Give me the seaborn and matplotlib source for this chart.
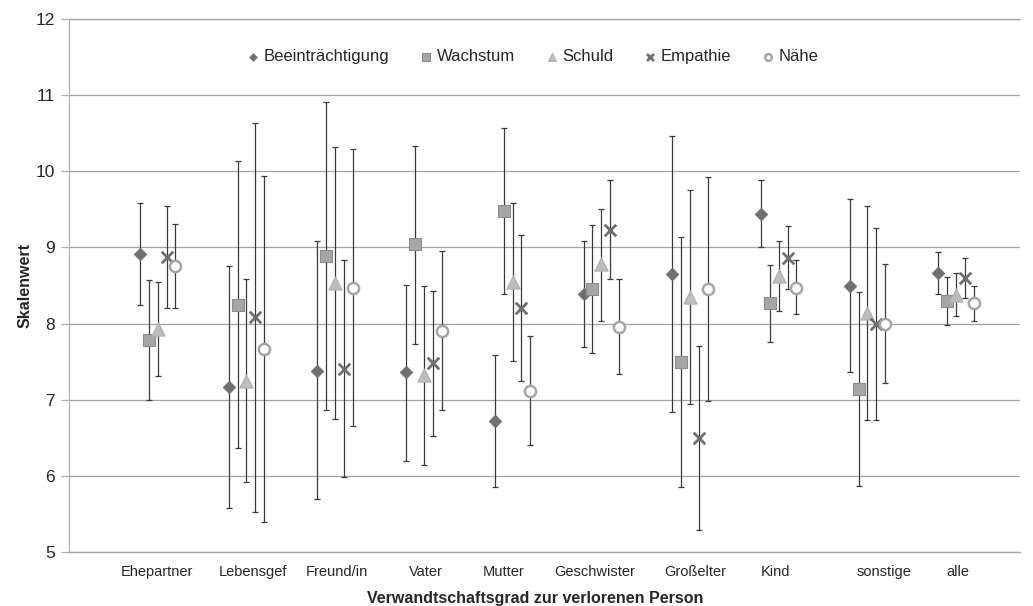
import numpy as np
import pandas as pd
import seaborn as sns
import matplotlib.pyplot as plt

# data
categories = ["Ehepartner", "Lebensgef", "Freund/in", "Vater", "Mutter",
              "Geschwister", "Großelter", "Kind", "sonstige", "alle"]
series = ["Beeinträchtigung", "Wachstum", "Schuld", "Empathie", "Nähe"]

beeintr_mean = [8.92, 7.17, 7.38, 7.36, 6.72, 8.39, 8.65, 9.44, 8.50, 8.67]
beeintr_hi = [9.58, 8.75, 9.08, 8.51, 7.59, 9.08, 10.46, 9.88, 9.64, 8.94]
beeintr_lo = [8.25, 5.58, 5.69, 6.20, 5.86, 7.69, 6.84, 9.01, 7.36, 8.39]

wachstum_mean = [7.79, 8.25, 8.89, 9.04, 9.48, 8.46, 7.50, 8.27, 7.14, 8.30]
wachstum_hi = [8.57, 10.14, 10.91, 10.33, 10.57, 9.29, 9.14, 8.77, 8.42, 8.61]
wachstum_lo = [7.00, 6.37, 6.86, 7.73, 8.39, 7.62, 5.86, 7.76, 5.87, 7.98]

schuld_mean = [7.93, 7.25, 8.53, 7.32, 8.55, 8.78, 8.35, 8.62, 8.14, 8.38]
schuld_hi = [8.55, 8.58, 10.32, 8.50, 9.59, 9.51, 9.76, 9.09, 9.54, 8.66]
schuld_lo = [7.31, 5.92, 6.75, 6.14, 7.51, 8.04, 6.94, 8.16, 6.74, 8.10]

empathie_mean = [8.87, 8.08, 7.41, 7.48, 8.20, 9.23, 6.50, 8.86, 8.00, 8.60]
empathie_hi = [9.54, 10.64, 8.84, 8.43, 9.16, 9.89, 7.71, 9.28, 9.26, 8.86]
empathie_lo = [8.20, 5.52, 5.98, 6.53, 7.24, 8.58, 5.29, 8.46, 6.74, 8.34]

naehe_mean = [8.76, 7.67, 8.47, 7.90, 7.12, 7.96, 8.45, 8.47, 7.99, 8.27]
naehe_hi = [9.31, 9.94, 10.29, 8.95, 7.84, 8.59, 9.92, 8.83, 8.78, 8.50]
naehe_lo = [8.20, 5.39, 6.65, 6.86, 6.41, 7.34, 6.98, 8.12, 7.22, 8.04]

# x-label positions (labels were placed by hand in the original)
label_pos = [0.99, 2.07, 3.02, 4.02, 4.90, 5.93, 7.06, 7.96, 9.19, 10.02]

means = [beeintr_mean, wachstum_mean, schuld_mean, empathie_mean, naehe_mean]
his = [beeintr_hi, wachstum_hi, schuld_hi, empathie_hi, naehe_hi]
los = [beeintr_lo, wachstum_lo, schuld_lo, empathie_lo, naehe_lo]

styles = {
    "Beeinträchtigung": dict(marker="D", s=42, color="#6f6f6f", edgecolor="#6f6f6f", linewidth=0.5),
    "Wachstum": dict(marker="s", s=80, color="#a6a6a6", edgecolor="#8c8c8c", linewidth=0.8),
    "Schuld": dict(marker="^", s=90, color="#bdbdbd", edgecolor="#b0b0b0", linewidth=0.8),
    "Empathie": dict(marker="x", s=70, color="#6f6f6f", linewidth=2.0),
    "Nähe": dict(marker="o", s=65, facecolor="white", edgecolor="#a6a6a6", linewidth=1.8),
}
offsets = [-0.2, -0.1, 0.0, 0.1, 0.2]

sns.set_theme(style="white")
plt.rcParams['font.family'] = ['Liberation Sans', 'DejaVu Sans']

fig = plt.figure(figsize=(10.33, 6.06), dpi=100)
ax = fig.add_axes([0.0668, 0.0891, 0.9206, 0.8795])

pos = np.arange(1, len(categories) + 1)
for k, name in enumerate(series):
    x = pos + offsets[k]
    m = np.array(means[k])
    err = [m - np.array(los[k]), np.array(his[k]) - m]
    ax.errorbar(x, m, yerr=err, fmt="none", ecolor="#3a3a3a", elinewidth=0.9,
                capsize=2.5, capthick=0.9, zorder=2 + k)
    df = pd.DataFrame({"x": x, "y": m})
    sns.scatterplot(data=df, x="x", y="y", ax=ax, label=name, zorder=3 + k,
                    **styles[name])

ax.set_xlim(0, 10.72)
ax.set_ylim(5, 12)
ax.set_yticks(range(5, 13))
ax.yaxis.grid(True, color="#a3a3a3", linewidth=0.9)
for yv in (5, 12):
    ax.axhline(yv, color="#a3a3a3", linewidth=1.0, clip_on=False, zorder=1)
ax.set_axisbelow(True)
ax.tick_params(axis="y", length=6, width=0.9, color="#b0b0b0", labelsize=12.5,
               left=True, pad=4)
ax.set_xticks(label_pos)
ax.set_xticklabels(categories, fontsize=10.5)
ax.tick_params(axis="x", length=0, pad=9)

for side in ["top", "right", "bottom"]:
    ax.spines[side].set_visible(False)
ax.spines["left"].set_color("#b0b0b0")
ax.spines["left"].set_linewidth(0.9)

ax.set_ylabel("Skalenwert", fontsize=11.5, fontweight="bold")
ax.yaxis.set_label_coords(-0.038, 0.5)
ax.set_xlabel("Verwandtschaftsgrad zur verlorenen Person", fontsize=11.5,
              fontweight="bold")
ax.xaxis.set_label_coords(0.49, -0.073)

ax.legend(loc="center", bbox_to_anchor=(0.487, 0.929), ncol=5, frameon=False,
          fontsize=12, handlelength=0.9, handletextpad=0.2, columnspacing=1.75,
          markerscale=0.6)

fig.savefig("out.png", dpi=100)
